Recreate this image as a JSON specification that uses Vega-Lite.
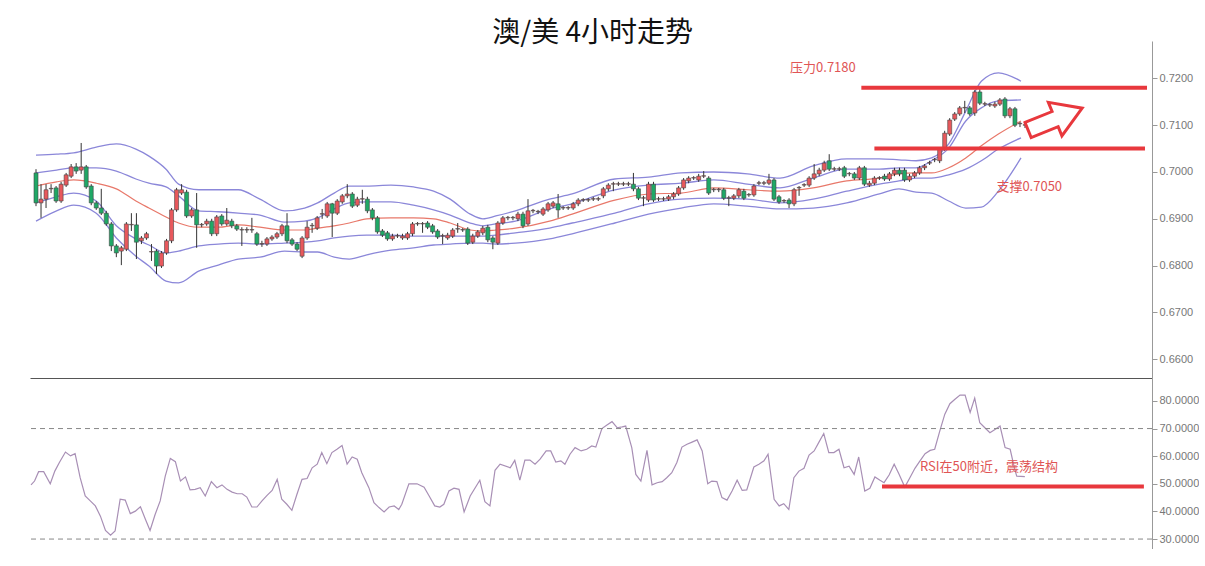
{
"$schema":"https://vega.github.io/schema/vega-lite/v6.json",
"padding":{"left":28,"top":20,"right":0,"bottom":0},
"background":"white",
"title":{"text":"澳/美 4小时走势","font":"Noto Sans CJK SC","fontSize":28,"fontWeight":"normal","color":"#111","baseline":"bottom","offset":-35,"dx":-21,"anchor":"middle"},
"config":{"view":{"stroke":null},"font":"Liberation Sans","axis":{"labelOverlap":false}},
"datasets":{
"candles":[
{"i":0,"o":0.6998,"h":0.7006,"l":0.6927,"c":0.6934},{"i":1,"o":0.6934,"h":0.6974,"l":0.6902,"c":0.6942},{"i":2,"o":0.6942,"h":0.6974,"l":0.6923,"c":0.6962},{"i":3,"o":0.6964,"h":0.6974,"l":0.6955,"c":0.6965},{"i":4,"o":0.6966,"h":0.6970,"l":0.6934,"c":0.6938},{"i":5,"o":0.6938,"h":0.6979,"l":0.6934,"c":0.6974},{"i":6,"o":0.6972,"h":0.6998,"l":0.6968,"c":0.6994},{"i":7,"o":0.6991,"h":0.7017,"l":0.6987,"c":0.7011},{"i":8,"o":0.7011,"h":0.7019,"l":0.6996,"c":0.7002},{"i":9,"o":0.7004,"h":0.7062,"l":0.6996,"c":0.7011},
{"i":10,"o":0.7011,"h":0.7015,"l":0.6964,"c":0.6968},{"i":11,"o":0.6970,"h":0.6974,"l":0.6929,"c":0.6934},{"i":12,"o":0.6934,"h":0.6938,"l":0.6919,"c":0.6923},{"i":13,"o":0.6923,"h":0.6964,"l":0.6908,"c":0.6912},{"i":14,"o":0.6912,"h":0.6917,"l":0.6885,"c":0.6889},{"i":15,"o":0.6889,"h":0.6893,"l":0.6831,"c":0.6842},{"i":16,"o":0.6842,"h":0.6846,"l":0.6818,"c":0.6827},{"i":17,"o":0.6831,"h":0.6842,"l":0.6801,"c":0.6838},{"i":18,"o":0.6835,"h":0.6893,"l":0.6831,"c":0.6889},{"i":19,"o":0.6887,"h":0.6912,"l":0.6874,"c":0.6888},
{"i":20,"o":0.6887,"h":0.6912,"l":0.6814,"c":0.6850},{"i":21,"o":0.6853,"h":0.6863,"l":0.6846,"c":0.6859},{"i":22,"o":0.6859,"h":0.6872,"l":0.6855,"c":0.6868},{"i":23,"o":0.6829,"h":0.6846,"l":0.6810,"c":0.6830},{"i":24,"o":0.6831,"h":0.6835,"l":0.6782,"c":0.6799},{"i":25,"o":0.6799,"h":0.6831,"l":0.6795,"c":0.6827},{"i":26,"o":0.6827,"h":0.6857,"l":0.6823,"c":0.6853},{"i":27,"o":0.6853,"h":0.6923,"l":0.6848,"c":0.6919},{"i":28,"o":0.6919,"h":0.6966,"l":0.6915,"c":0.6962},{"i":29,"o":0.6955,"h":0.6974,"l":0.6951,"c":0.6962},
{"i":30,"o":0.6957,"h":0.6962,"l":0.6902,"c":0.6906},{"i":31,"o":0.6906,"h":0.6923,"l":0.6902,"c":0.6919},{"i":32,"o":0.6919,"h":0.6955,"l":0.6838,"c":0.6887},{"i":33,"o":0.6887,"h":0.6891,"l":0.6882,"c":0.6888},{"i":34,"o":0.6889,"h":0.6900,"l":0.6885,"c":0.6895},{"i":35,"o":0.6895,"h":0.6900,"l":0.6863,"c":0.6868},{"i":36,"o":0.6868,"h":0.6908,"l":0.6863,"c":0.6904},{"i":37,"o":0.6906,"h":0.6910,"l":0.6885,"c":0.6889},{"i":38,"o":0.6889,"h":0.6923,"l":0.6885,"c":0.6897},{"i":39,"o":0.6895,"h":0.6900,"l":0.6880,"c":0.6885},
{"i":40,"o":0.6885,"h":0.6889,"l":0.6874,"c":0.6878},{"i":41,"o":0.6876,"h":0.6882,"l":0.6842,"c":0.6877},{"i":42,"o":0.6876,"h":0.6882,"l":0.6870,"c":0.6877},{"i":43,"o":0.6876,"h":0.6902,"l":0.6870,"c":0.6877},{"i":44,"o":0.6868,"h":0.6872,"l":0.6842,"c":0.6846},{"i":45,"o":0.6846,"h":0.6853,"l":0.6840,"c":0.6847},{"i":46,"o":0.6846,"h":0.6861,"l":0.6842,"c":0.6857},{"i":47,"o":0.6857,"h":0.6865,"l":0.6853,"c":0.6861},{"i":48,"o":0.6861,"h":0.6872,"l":0.6857,"c":0.6868},{"i":49,"o":0.6868,"h":0.6889,"l":0.6863,"c":0.6885},
{"i":50,"o":0.6885,"h":0.6912,"l":0.6848,"c":0.6853},{"i":51,"o":0.6855,"h":0.6859,"l":0.6842,"c":0.6846},{"i":52,"o":0.6846,"h":0.6850,"l":0.6831,"c":0.6835},{"i":53,"o":0.6820,"h":0.6863,"l":0.6816,"c":0.6859},{"i":54,"o":0.6859,"h":0.6895,"l":0.6855,"c":0.6882},{"i":55,"o":0.6885,"h":0.6891,"l":0.6870,"c":0.6886},{"i":56,"o":0.6880,"h":0.6906,"l":0.6876,"c":0.6902},{"i":57,"o":0.6910,"h":0.6921,"l":0.6900,"c":0.6911},{"i":58,"o":0.6906,"h":0.6936,"l":0.6902,"c":0.6932},{"i":59,"o":0.6932,"h":0.6934,"l":0.6861,"c":0.6912},
{"i":60,"o":0.6912,"h":0.6942,"l":0.6908,"c":0.6938},{"i":61,"o":0.6936,"h":0.6953,"l":0.6932,"c":0.6949},{"i":62,"o":0.6949,"h":0.6974,"l":0.6944,"c":0.6953},{"i":63,"o":0.6953,"h":0.6957,"l":0.6923,"c":0.6927},{"i":64,"o":0.6929,"h":0.6947,"l":0.6925,"c":0.6942},{"i":65,"o":0.6942,"h":0.6962,"l":0.6932,"c":0.6943},{"i":66,"o":0.6942,"h":0.6947,"l":0.6912,"c":0.6917},{"i":67,"o":0.6919,"h":0.6923,"l":0.6897,"c":0.6902},{"i":68,"o":0.6902,"h":0.6906,"l":0.6868,"c":0.6872},{"i":69,"o":0.6874,"h":0.6878,"l":0.6861,"c":0.6865},
{"i":70,"o":0.6870,"h":0.6874,"l":0.6853,"c":0.6857},{"i":71,"o":0.6857,"h":0.6868,"l":0.6853,"c":0.6863},{"i":72,"o":0.6863,"h":0.6868,"l":0.6859,"c":0.6864},{"i":73,"o":0.6859,"h":0.6868,"l":0.6855,"c":0.6863},{"i":74,"o":0.6859,"h":0.6872,"l":0.6855,"c":0.6868},{"i":75,"o":0.6868,"h":0.6893,"l":0.6863,"c":0.6889},{"i":76,"o":0.6889,"h":0.6893,"l":0.6885,"c":0.6890},{"i":77,"o":0.6889,"h":0.6893,"l":0.6870,"c":0.6890},{"i":78,"o":0.6891,"h":0.6895,"l":0.6878,"c":0.6882},{"i":79,"o":0.6885,"h":0.6889,"l":0.6868,"c":0.6872},
{"i":80,"o":0.6874,"h":0.6878,"l":0.6857,"c":0.6861},{"i":81,"o":0.6863,"h":0.6868,"l":0.6846,"c":0.6864},{"i":82,"o":0.6859,"h":0.6870,"l":0.6855,"c":0.6865},{"i":83,"o":0.6863,"h":0.6880,"l":0.6859,"c":0.6876},{"i":84,"o":0.6878,"h":0.6891,"l":0.6870,"c":0.6879},{"i":85,"o":0.6876,"h":0.6880,"l":0.6872,"c":0.6877},{"i":86,"o":0.6878,"h":0.6882,"l":0.6844,"c":0.6848},{"i":87,"o":0.6850,"h":0.6868,"l":0.6846,"c":0.6863},{"i":88,"o":0.6863,"h":0.6876,"l":0.6859,"c":0.6872},{"i":89,"o":0.6870,"h":0.6885,"l":0.6865,"c":0.6880},
{"i":90,"o":0.6882,"h":0.6887,"l":0.6850,"c":0.6855},{"i":91,"o":0.6859,"h":0.6863,"l":0.6835,"c":0.6850},{"i":92,"o":0.6848,"h":0.6895,"l":0.6844,"c":0.6891},{"i":93,"o":0.6891,"h":0.6906,"l":0.6887,"c":0.6902},{"i":94,"o":0.6902,"h":0.6906,"l":0.6897,"c":0.6903},{"i":95,"o":0.6902,"h":0.6906,"l":0.6897,"c":0.6903},{"i":96,"o":0.6900,"h":0.6915,"l":0.6895,"c":0.6910},{"i":97,"o":0.6910,"h":0.6915,"l":0.6880,"c":0.6885},{"i":98,"o":0.6889,"h":0.6942,"l":0.6885,"c":0.6917},{"i":99,"o":0.6917,"h":0.6921,"l":0.6912,"c":0.6918},
{"i":100,"o":0.6915,"h":0.6919,"l":0.6910,"c":0.6916},{"i":101,"o":0.6910,"h":0.6925,"l":0.6906,"c":0.6921},{"i":102,"o":0.6919,"h":0.6936,"l":0.6915,"c":0.6932},{"i":103,"o":0.6927,"h":0.6938,"l":0.6923,"c":0.6934},{"i":104,"o":0.6932,"h":0.6953,"l":0.6902,"c":0.6919},{"i":105,"o":0.6923,"h":0.6927,"l":0.6919,"c":0.6924},{"i":106,"o":0.6923,"h":0.6927,"l":0.6919,"c":0.6924},{"i":107,"o":0.6923,"h":0.6936,"l":0.6919,"c":0.6932},{"i":108,"o":0.6932,"h":0.6944,"l":0.6927,"c":0.6940},{"i":109,"o":0.6940,"h":0.6944,"l":0.6936,"c":0.6941},
{"i":110,"o":0.6940,"h":0.6944,"l":0.6936,"c":0.6941},{"i":111,"o":0.6942,"h":0.6947,"l":0.6938,"c":0.6943},{"i":112,"o":0.6942,"h":0.6947,"l":0.6938,"c":0.6943},{"i":113,"o":0.6949,"h":0.6968,"l":0.6944,"c":0.6964},{"i":114,"o":0.6964,"h":0.6976,"l":0.6959,"c":0.6972},{"i":115,"o":0.6974,"h":0.6979,"l":0.6959,"c":0.6975},{"i":116,"o":0.6974,"h":0.6979,"l":0.6970,"c":0.6975},{"i":117,"o":0.6974,"h":0.6979,"l":0.6970,"c":0.6975},{"i":118,"o":0.6974,"h":0.6979,"l":0.6970,"c":0.6975},{"i":119,"o":0.6974,"h":0.6998,"l":0.6959,"c":0.6964},
{"i":120,"o":0.6964,"h":0.6968,"l":0.6940,"c":0.6944},{"i":121,"o":0.6944,"h":0.6949,"l":0.6927,"c":0.6945},{"i":122,"o":0.6940,"h":0.6979,"l":0.6936,"c":0.6974},{"i":123,"o":0.6974,"h":0.6979,"l":0.6936,"c":0.6940},{"i":124,"o":0.6942,"h":0.6947,"l":0.6938,"c":0.6943},{"i":125,"o":0.6942,"h":0.6947,"l":0.6938,"c":0.6943},{"i":126,"o":0.6942,"h":0.6951,"l":0.6938,"c":0.6947},{"i":127,"o":0.6947,"h":0.6957,"l":0.6942,"c":0.6953},{"i":128,"o":0.6953,"h":0.6970,"l":0.6949,"c":0.6966},{"i":129,"o":0.6966,"h":0.6987,"l":0.6962,"c":0.6983},
{"i":130,"o":0.6981,"h":0.6991,"l":0.6976,"c":0.6987},{"i":131,"o":0.6987,"h":0.6991,"l":0.6983,"c":0.6988},{"i":132,"o":0.6983,"h":0.6996,"l":0.6979,"c":0.6991},{"i":133,"o":0.6991,"h":0.7002,"l":0.6987,"c":0.6992},{"i":134,"o":0.6987,"h":0.6991,"l":0.6951,"c":0.6955},{"i":135,"o":0.6962,"h":0.6966,"l":0.6957,"c":0.6963},{"i":136,"o":0.6962,"h":0.6966,"l":0.6957,"c":0.6963},{"i":137,"o":0.6962,"h":0.6966,"l":0.6940,"c":0.6944},{"i":138,"o":0.6944,"h":0.6949,"l":0.6927,"c":0.6945},{"i":139,"o":0.6944,"h":0.6953,"l":0.6940,"c":0.6949},
{"i":140,"o":0.6949,"h":0.6966,"l":0.6944,"c":0.6962},{"i":141,"o":0.6959,"h":0.6964,"l":0.6940,"c":0.6944},{"i":142,"o":0.6951,"h":0.6955,"l":0.6947,"c":0.6952},{"i":143,"o":0.6951,"h":0.6974,"l":0.6947,"c":0.6970},{"i":144,"o":0.6976,"h":0.6981,"l":0.6972,"c":0.6977},{"i":145,"o":0.6976,"h":0.6981,"l":0.6972,"c":0.6977},{"i":146,"o":0.6976,"h":0.6996,"l":0.6972,"c":0.6983},{"i":147,"o":0.6983,"h":0.6987,"l":0.6938,"c":0.6942},{"i":148,"o":0.6947,"h":0.6951,"l":0.6932,"c":0.6936},{"i":149,"o":0.6938,"h":0.6942,"l":0.6934,"c":0.6939},
{"i":150,"o":0.6940,"h":0.6944,"l":0.6923,"c":0.6932},{"i":151,"o":0.6932,"h":0.6966,"l":0.6927,"c":0.6962},{"i":152,"o":0.6966,"h":0.6970,"l":0.6949,"c":0.6967},{"i":153,"o":0.6972,"h":0.6976,"l":0.6968,"c":0.6973},{"i":154,"o":0.6972,"h":0.6991,"l":0.6968,"c":0.6987},{"i":155,"o":0.6987,"h":0.7017,"l":0.6983,"c":0.6996},{"i":156,"o":0.6996,"h":0.7009,"l":0.6991,"c":0.7004},{"i":157,"o":0.7004,"h":0.7024,"l":0.7000,"c":0.7019},{"i":158,"o":0.7024,"h":0.7038,"l":0.7002,"c":0.7006},{"i":159,"o":0.7006,"h":0.7011,"l":0.7002,"c":0.7007},
{"i":160,"o":0.7006,"h":0.7011,"l":0.7002,"c":0.7007},{"i":161,"o":0.7009,"h":0.7013,"l":0.6987,"c":0.6991},{"i":162,"o":0.6996,"h":0.7000,"l":0.6991,"c":0.6997},{"i":163,"o":0.6996,"h":0.7000,"l":0.6983,"c":0.6987},{"i":164,"o":0.6987,"h":0.7013,"l":0.6983,"c":0.7009},{"i":165,"o":0.7009,"h":0.7013,"l":0.6970,"c":0.6974},{"i":166,"o":0.6972,"h":0.6981,"l":0.6968,"c":0.6976},{"i":167,"o":0.6976,"h":0.6991,"l":0.6972,"c":0.6987},{"i":168,"o":0.6987,"h":0.6991,"l":0.6983,"c":0.6988},{"i":169,"o":0.6991,"h":0.6996,"l":0.6981,"c":0.6985},
{"i":170,"o":0.6985,"h":0.7000,"l":0.6981,"c":0.6996},{"i":171,"o":0.6996,"h":0.7009,"l":0.6991,"c":0.7004},{"i":172,"o":0.7004,"h":0.7009,"l":0.6991,"c":0.6996},{"i":173,"o":0.7004,"h":0.7009,"l":0.6979,"c":0.6983},{"i":174,"o":0.6983,"h":0.6996,"l":0.6979,"c":0.6991},{"i":175,"o":0.6991,"h":0.7002,"l":0.6987,"c":0.6998},{"i":176,"o":0.6998,"h":0.7013,"l":0.6994,"c":0.7009},{"i":177,"o":0.7009,"h":0.7017,"l":0.7004,"c":0.7013},{"i":178,"o":0.7019,"h":0.7024,"l":0.7015,"c":0.7020},{"i":179,"o":0.7026,"h":0.7030,"l":0.7021,"c":0.7027},
{"i":180,"o":0.7024,"h":0.7053,"l":0.7019,"c":0.7049},{"i":181,"o":0.7049,"h":0.7088,"l":0.7045,"c":0.7083},{"i":182,"o":0.7081,"h":0.7115,"l":0.7077,"c":0.7111},{"i":183,"o":0.7113,"h":0.7128,"l":0.7109,"c":0.7124},{"i":184,"o":0.7124,"h":0.7141,"l":0.7120,"c":0.7137},{"i":185,"o":0.7137,"h":0.7152,"l":0.7126,"c":0.7138},{"i":186,"o":0.7137,"h":0.7141,"l":0.7120,"c":0.7124},{"i":187,"o":0.7126,"h":0.7175,"l":0.7120,"c":0.7171},{"i":188,"o":0.7171,"h":0.7177,"l":0.7143,"c":0.7147},{"i":189,"o":0.7145,"h":0.7150,"l":0.7141,"c":0.7146},
{"i":190,"o":0.7143,"h":0.7147,"l":0.7139,"c":0.7144},{"i":191,"o":0.7141,"h":0.7150,"l":0.7137,"c":0.7145},{"i":192,"o":0.7145,"h":0.7158,"l":0.7141,"c":0.7154},{"i":193,"o":0.7156,"h":0.7160,"l":0.7115,"c":0.7120},{"i":194,"o":0.7120,"h":0.7139,"l":0.7115,"c":0.7135},{"i":195,"o":0.7135,"h":0.7139,"l":0.7096,"c":0.7100},{"i":196,"o":0.7103,"h":0.7107,"l":0.7096,"c":0.7104},{"i":197,"o":0.7100,"h":0.7105,"l":0.7094,"c":0.7101}
],
"bands":[
{"i":0,"u2":0.7036,"u1":0.6998,"m":0.6970,"l1":0.6934,"l2":0.6895},
{"i":4.1,"u2":0.7038,"u1":0.7004,"m":0.6979,"l1":0.6947,"l2":0.6917},
{"i":7.5,"u2":0.7041,"u1":0.7009,"m":0.6983,"l1":0.6955,"l2":0.6929},
{"i":12,"u2":0.7053,"u1":0.7009,"m":0.6976,"l1":0.6938,"l2":0.6912},
{"i":16,"u2":0.7060,"u1":0.7002,"m":0.6964,"l1":0.6885,"l2":0.6859},
{"i":19.9,"u2":0.7049,"u1":0.6985,"m":0.6938,"l1":0.6857,"l2":0.6820},
{"i":22.5,"u2":0.7034,"u1":0.6976,"m":0.6923,"l1":0.6844,"l2":0.6799},
{"i":25.9,"u2":0.7006,"u1":0.6968,"m":0.6904,"l1":0.6827,"l2":0.6767},
{"i":28.4,"u2":0.6974,"u1":0.6949,"m":0.6891,"l1":0.6831,"l2":0.6763},
{"i":32.4,"u2":0.6962,"u1":0.6917,"m":0.6882,"l1":0.6842,"l2":0.6788},
{"i":36.3,"u2":0.6962,"u1":0.6915,"m":0.6882,"l1":0.6846,"l2":0.6801},
{"i":40.3,"u2":0.6962,"u1":0.6912,"m":0.6887,"l1":0.6848,"l2":0.6814},
{"i":44.6,"u2":0.6942,"u1":0.6908,"m":0.6882,"l1":0.6846,"l2":0.6818},
{"i":49.5,"u2":0.6917,"u1":0.6893,"m":0.6876,"l1":0.6848,"l2":0.6831},
{"i":53.5,"u2":0.6923,"u1":0.6895,"m":0.6876,"l1":0.6850,"l2":0.6829},
{"i":56.1,"u2":0.6934,"u1":0.6902,"m":0.6880,"l1":0.6853,"l2":0.6829},
{"i":59.4,"u2":0.6955,"u1":0.6921,"m":0.6885,"l1":0.6859,"l2":0.6818},
{"i":62.4,"u2":0.6970,"u1":0.6934,"m":0.6891,"l1":0.6863,"l2":0.6814},
{"i":65.9,"u2":0.6970,"u1":0.6936,"m":0.6900,"l1":0.6865,"l2":0.6823},
{"i":70.7,"u2":0.6972,"u1":0.6936,"m":0.6902,"l1":0.6865,"l2":0.6833},
{"i":75.2,"u2":0.6968,"u1":0.6929,"m":0.6902,"l1":0.6863,"l2":0.6838},
{"i":79.2,"u2":0.6959,"u1":0.6919,"m":0.6900,"l1":0.6863,"l2":0.6844},
{"i":82.5,"u2":0.6942,"u1":0.6908,"m":0.6891,"l1":0.6863,"l2":0.6846},
{"i":86.5,"u2":0.6910,"u1":0.6891,"m":0.6876,"l1":0.6863,"l2":0.6848},
{"i":89.0,"u2":0.6900,"u1":0.6885,"m":0.6874,"l1":0.6863,"l2":0.6848},
{"i":91.6,"u2":0.6906,"u1":0.6889,"m":0.6876,"l1":0.6865,"l2":0.6846},
{"i":95.5,"u2":0.6917,"u1":0.6895,"m":0.6880,"l1":0.6870,"l2":0.6848},
{"i":102.3,"u2":0.6942,"u1":0.6921,"m":0.6895,"l1":0.6880,"l2":0.6857},
{"i":106.8,"u2":0.6953,"u1":0.6932,"m":0.6910,"l1":0.6891,"l2":0.6868},
{"i":115.3,"u2":0.6985,"u1":0.6962,"m":0.6940,"l1":0.6912,"l2":0.6891},
{"i":122,"u2":0.6989,"u1":0.6972,"m":0.6953,"l1":0.6932,"l2":0.6910},
{"i":128.5,"u2":0.6998,"u1":0.6976,"m":0.6955,"l1":0.6942,"l2":0.6923},
{"i":135,"u2":0.7000,"u1":0.6983,"m":0.6966,"l1":0.6944,"l2":0.6932},
{"i":141.7,"u2":0.6996,"u1":0.6974,"m":0.6962,"l1":0.6942,"l2":0.6927},
{"i":148.2,"u2":0.6987,"u1":0.6966,"m":0.6959,"l1":0.6934,"l2":0.6921},
{"i":154.8,"u2":0.7013,"u1":0.6987,"m":0.6966,"l1":0.6942,"l2":0.6923},
{"i":161.5,"u2":0.7028,"u1":0.7006,"m":0.6981,"l1":0.6959,"l2":0.6934},
{"i":168,"u2":0.7028,"u1":0.7006,"m":0.6987,"l1":0.6974,"l2":0.6953},
{"i":171.9,"u2":0.7026,"u1":0.7009,"m":0.6996,"l1":0.6981,"l2":0.6964},
{"i":175.3,"u2":0.7024,"u1":0.7009,"m":0.6998,"l1":0.6987,"l2":0.6957},
{"i":178.4,"u2":0.7030,"u1":0.7024,"m":0.6998,"l1":0.6987,"l2":0.6955},
{"i":181.8,"u2":0.7060,"u1":0.7051,"m":0.7009,"l1":0.6994,"l2":0.6938},
{"i":185.2,"u2":0.7130,"u1":0.7109,"m":0.7030,"l1":0.7006,"l2":0.6923},
{"i":188.3,"u2":0.7194,"u1":0.7137,"m":0.7056,"l1":0.7024,"l2":0.6925},
{"i":191.7,"u2":0.7212,"u1":0.7152,"m":0.7081,"l1":0.7049,"l2":0.6959},
{"i":196.2,"u2":0.7194,"u1":0.7154,"m":0.7109,"l1":0.7073,"l2":0.7030}
],
"rsi":[
{"i":0,"r":49.6},{"i":0.7,"r":51.0},{"i":1.5,"r":54.4},{"i":2.5,"r":54.4},{"i":3.8,"r":50.0},{"i":4.7,"r":54.6},{"i":5.6,"r":57.7},{"i":6.8,"r":61.5},{"i":7.8,"r":60.1},{"i":8.7,"r":60.9},{"i":9.7,"r":52.2},{"i":10.7,"r":45.6},{"i":11.7,"r":43.8},{"i":12.7,"r":42.0},{"i":13.7,"r":38.3},{"i":14.7,"r":33.1},{"i":15.7,"r":31.4},{"i":16.6,"r":32.9},{"i":17.6,"r":44.4},{"i":18.6,"r":44.1},{"i":19.6,"r":39.2},{"i":20.6,"r":40.1},{"i":21.6,"r":41.7},{"i":22.6,"r":37.1},{"i":23.5,"r":33.1},{"i":24.5,"r":38.9},{"i":25.5,"r":43.8},{"i":26.5,"r":52.8},{"i":27.5,"r":59.2},{"i":28.5,"r":58.0},{"i":29.5,"r":51.0},{"i":30.5,"r":52.5},{"i":31.4,"r":47.8},{"i":32.4,"r":48.0},{"i":33.4,"r":48.6},{"i":34.4,"r":45.6},{"i":35.6,"r":50.8},{"i":36.7,"r":48.6},{"i":37.7,"r":49.6},{"i":38.7,"r":48.0},{"i":39.7,"r":47.0},{"i":40.7,"r":46.4},{"i":41.7,"r":46.4},{"i":42.6,"r":45.2},{"i":43.6,"r":41.6},{"i":44.6,"r":41.6},{"i":45.6,"r":43.8},{"i":46.6,"r":45.8},{"i":47.6,"r":47.6},{"i":48.6,"r":51.6},{"i":49.5,"r":44.4},{"i":50.5,"r":42.6},{"i":51.5,"r":40.4},{"i":52.5,"r":46.2},{"i":53.5,"r":51.6},{"i":54.5,"r":51.9},{"i":55.5,"r":55.8},{"i":56.5,"r":57.1},{"i":57.4,"r":61.3},{"i":58.4,"r":57.3},{"i":59.4,"r":61.3},{"i":60.4,"r":62.5},{"i":61.4,"r":63.9},{"i":62.4,"r":57.1},{"i":63.4,"r":59.7},{"i":64.4,"r":58.9},{"i":65.3,"r":54.0},{"i":66.7,"r":48.6},{"i":67.7,"r":43.2},{"i":68.7,"r":41.4},{"i":69.7,"r":39.8},{"i":70.7,"r":41.6},{"i":71.7,"r":42.0},{"i":72.6,"r":40.7},{"i":73.2,"r":42.6},{"i":74.6,"r":50.0},{"i":76.2,"r":50.0},{"i":77.6,"r":48.8},{"i":78.6,"r":45.6},{"i":79.7,"r":42.0},{"i":80.7,"r":41.6},{"i":81.5,"r":42.6},{"i":82.5,"r":47.4},{"i":83.5,"r":48.4},{"i":84.5,"r":48.0},{"i":85.5,"r":39.8},{"i":86.7,"r":45.6},{"i":88.6,"r":51.3},{"i":89.6,"r":43.5},{"i":90.6,"r":42.0},{"i":91.6,"r":54.9},{"i":92.6,"r":57.1},{"i":94.6,"r":55.8},{"i":95.5,"r":58.5},{"i":96.5,"r":51.3},{"i":97.5,"r":58.6},{"i":98.5,"r":58.6},{"i":99.5,"r":57.1},{"i":100.5,"r":58.9},{"i":101.7,"r":61.9},{"i":102.6,"r":61.9},{"i":103.6,"r":57.9},{"i":104.6,"r":58.3},{"i":105.4,"r":57.1},{"i":106.4,"r":60.7},{"i":107.4,"r":63.1},{"i":108.6,"r":61.9},{"i":109.7,"r":62.5},{"i":110.7,"r":63.7},{"i":111.5,"r":63.3},{"i":112.7,"r":70.0},{"i":113.7,"r":71.3},{"i":114.7,"r":72.5},{"i":115.7,"r":70.3},{"i":116.7,"r":70.6},{"i":117.4,"r":70.9},{"i":118.6,"r":63.1},{"i":119.4,"r":53.4},{"i":120.4,"r":51.0},{"i":121.6,"r":62.1},{"i":122.6,"r":49.6},{"i":123.6,"r":50.4},{"i":124.6,"r":50.8},{"i":125.5,"r":52.2},{"i":126.5,"r":54.0},{"i":127.5,"r":57.7},{"i":128.5,"r":63.3},{"i":129.5,"r":64.3},{"i":130.5,"r":65.1},{"i":131.5,"r":65.9},{"i":132.5,"r":61.9},{"i":133.6,"r":50.0},{"i":134.4,"r":51.0},{"i":135.4,"r":50.8},{"i":136.4,"r":45.0},{"i":137.4,"r":44.1},{"i":138.4,"r":47.4},{"i":139.4,"r":51.3},{"i":140.4,"r":47.6},{"i":141.3,"r":47.8},{"i":142.7,"r":56.1},{"i":143.7,"r":57.1},{"i":144.7,"r":58.3},{"i":145.5,"r":60.7},{"i":146.7,"r":44.4},{"i":147.7,"r":42.0},{"i":148.6,"r":42.8},{"i":149.6,"r":40.7},{"i":150.6,"r":52.2},{"i":151.6,"r":54.6},{"i":152.6,"r":55.6},{"i":153.6,"r":60.4},{"i":154.6,"r":61.9},{"i":155.5,"r":64.9},{"i":156.5,"r":68.2},{"i":157.5,"r":61.3},{"i":158.5,"r":61.3},{"i":159.5,"r":62.5},{"i":160.5,"r":55.8},{"i":161.5,"r":56.4},{"i":162.5,"r":53.4},{"i":163.4,"r":59.7},{"i":164.6,"r":47.4},{"i":165.6,"r":48.4},{"i":166.6,"r":52.5},{"i":167.6,"r":51.3},{"i":168.4,"r":50.4},{"i":169.4,"r":53.2},{"i":170.4,"r":57.1},{"i":171.3,"r":53.7},{"i":172.5,"r":48.8},{"i":173.5,"r":52.2},{"i":174.5,"r":55.6},{"i":175.5,"r":58.3},{"i":176.5,"r":60.9},{"i":177.5,"r":62.1},{"i":178.4,"r":62.5},{"i":179.4,"r":69.1},{"i":180.4,"r":75.2},{"i":181.4,"r":79.0},{"i":182.4,"r":80.6},{"i":183.4,"r":82.1},{"i":184.4,"r":82.1},{"i":185.4,"r":75.8},{"i":186.3,"r":81.0},{"i":187.3,"r":72.1},{"i":188.3,"r":70.3},{"i":189.3,"r":68.5},{"i":190.3,"r":69.7},{"i":191.3,"r":70.9},{"i":192.3,"r":63.1},{"i":193.3,"r":62.5},{"i":194.2,"r":55.2},{"i":194.6,"r":52.8},{"i":196.2,"r":52.6}
],
"levels":[{"i":164.4,"i2":221.3,"p":0.718},{"i":167,"i2":220.9,"p":0.705}],
"notes":[{"i":150.2,"p":0.7222,"t":"压力0.7180"},{"i":191.3,"p":0.6968,"t":"支撑0.7050"}],
"arrow":[{"i":203,"p":0.7113}]
},
"vconcat":[
{
"width":1122,"height":337,
"layer":[
{"data":{"name":"bands"},"transform":[{"fold":["u2","u1","l1","l2"],"as":["k","v"]}],
 "mark":{"type":"line","color":"#8b87d9","strokeWidth":1.3,"interpolate":"monotone"},
 "encoding":{
  "x":{"field":"i","type":"quantitative","title":null,"scale":{"domain":[-0.2,221.3],"nice":false,"zero":false},"axis":{"orient":"bottom","domain":true,"domainColor":"#555","ticks":false,"labels":false,"title":null,"grid":false}},
  "y":{"field":"v","type":"quantitative","title":null,"scale":{"domain":[0.65598,0.72799],"nice":false,"zero":false},"axis":{"orient":"right","values":[0.66,0.67,0.68,0.69,0.70,0.71,0.72],"tickCount":20,"format":".4f","title":null,"grid":false,"tickSize":5,"labelPadding":2,"labelColor":"#777","labelFontSize":11,"labelOverlap":false,"domainColor":"#999","tickColor":"#999"}},
  "detail":{"field":"k"}}},
{"data":{"name":"bands"},
 "mark":{"type":"line","color":"#e8786a","strokeWidth":1.2,"interpolate":"monotone"},
 "encoding":{
  "x":{"field":"i","type":"quantitative","title":null,"scale":{"domain":[-0.2,221.3],"nice":false,"zero":false}},
  "y":{"field":"m","type":"quantitative","title":null,"scale":{"domain":[0.65598,0.72799],"nice":false,"zero":false}}}},
{"data":{"name":"candles"},
 "mark":{"type":"rule","color":"#333","strokeWidth":1},
 "encoding":{
  "x":{"field":"i","type":"quantitative","title":null,"scale":{"domain":[-0.2,221.3],"nice":false,"zero":false}},
  "y":{"field":"l","type":"quantitative","title":null,"scale":{"domain":[0.65598,0.72799],"nice":false,"zero":false}},
  "y2":{"field":"h"}}},
{"data":{"name":"candles"},
 "mark":{"type":"bar","size":4,"stroke":"#444","strokeWidth":0.6},
 "encoding":{
  "x":{"field":"i","type":"quantitative","title":null,"scale":{"domain":[-0.2,221.3],"nice":false,"zero":false}},
  "y":{"field":"o","type":"quantitative","title":null,"scale":{"domain":[0.65598,0.72799],"nice":false,"zero":false}},
  "y2":{"field":"c"},
  "color":{"condition":{"test":"datum.c > datum.o","value":"#e8585c"},"value":"#1fa866"}}},
{"data":{"name":"levels"},
 "mark":{"type":"rule","color":"#e8383d","strokeWidth":4},
 "encoding":{
  "x":{"field":"i","type":"quantitative","title":null,"scale":{"domain":[-0.2,221.3],"nice":false,"zero":false}},
  "x2":{"field":"i2"},
  "y":{"field":"p","type":"quantitative","title":null,"scale":{"domain":[0.65598,0.72799],"nice":false,"zero":false}}}},
{"data":{"name":"notes"},
 "mark":{"type":"text","align":"left","baseline":"middle","font":"Noto Sans CJK SC","fontSize":13,"color":"#e05555"},
 "encoding":{
  "x":{"field":"i","type":"quantitative","title":null,"scale":{"domain":[-0.2,221.3],"nice":false,"zero":false}},
  "y":{"field":"p","type":"quantitative","title":null,"scale":{"domain":[0.65598,0.72799],"nice":false,"zero":false}},
  "text":{"field":"t"}}},
{"data":{"name":"arrow"},
 "mark":{"type":"point","shape":"M -1 -0.28 L 0 -0.28 L 0 -0.62 L 1 0 L 0 0.62 L 0 0.28 L -1 0.28 Z","size":3400,"angle":-22,"filled":true,"fill":"white","fillOpacity":1,"stroke":"#e8383d","strokeWidth":3,"opacity":1},
 "encoding":{
  "x":{"field":"i","type":"quantitative","title":null,"scale":{"domain":[-0.2,221.3],"nice":false,"zero":false}},
  "y":{"field":"p","type":"quantitative","title":null,"scale":{"domain":[0.65598,0.72799],"nice":false,"zero":false}}}}
]
},
{
"width":1122,"height":171,
"layer":[
{"data":{"name":"rsi"},
 "mark":{"type":"line","color":"#a88fb5","strokeWidth":1.2},
 "encoding":{
  "x":{"field":"i","type":"quantitative","title":null,"scale":{"domain":[-0.2,221.3],"nice":false,"zero":false},"axis":{"orient":"bottom","domain":true,"domainColor":"#555","ticks":false,"labels":false,"title":null,"grid":false}},
  "y":{"field":"r","type":"quantitative","title":null,"scale":{"domain":[26.4,88.3],"nice":false,"zero":false},"axis":{"orient":"right","values":[30,40,50,60,70,80],"tickCount":20,"format":".4f","title":null,"grid":false,"tickSize":5,"labelPadding":2,"labelColor":"#777","labelFontSize":11,"labelOverlap":false,"domainColor":"#999","tickColor":"#999"}}}},
{"data":{"values":[{"r":70},{"r":30}]},
 "mark":{"type":"rule","color":"#888","strokeWidth":1,"strokeDash":[5,4]},
 "encoding":{
  "y":{"field":"r","type":"quantitative","title":null,"scale":{"domain":[26.4,88.3],"nice":false,"zero":false}}}},
{"data":{"values":[{"i":168,"i2":219.7,"r":49}]},
 "mark":{"type":"rule","color":"#e8383d","strokeWidth":4},
 "encoding":{
  "x":{"field":"i","type":"quantitative","title":null,"scale":{"domain":[-0.2,221.3],"nice":false,"zero":false}},
  "x2":{"field":"i2"},
  "y":{"field":"r","type":"quantitative","title":null,"scale":{"domain":[26.4,88.3],"nice":false,"zero":false}}}},
{"data":{"values":[{"i":175.5,"r":56.1,"t":"RSI在50附近，震荡结构"}]},
 "mark":{"type":"text","align":"left","baseline":"middle","font":"Noto Sans CJK SC","fontSize":13,"color":"#e05555"},
 "encoding":{
  "x":{"field":"i","type":"quantitative","title":null,"scale":{"domain":[-0.2,221.3],"nice":false,"zero":false}},
  "y":{"field":"r","type":"quantitative","title":null,"scale":{"domain":[26.4,88.3],"nice":false,"zero":false}},
  "text":{"field":"t"}}}
]
}
],
"spacing":0
}
